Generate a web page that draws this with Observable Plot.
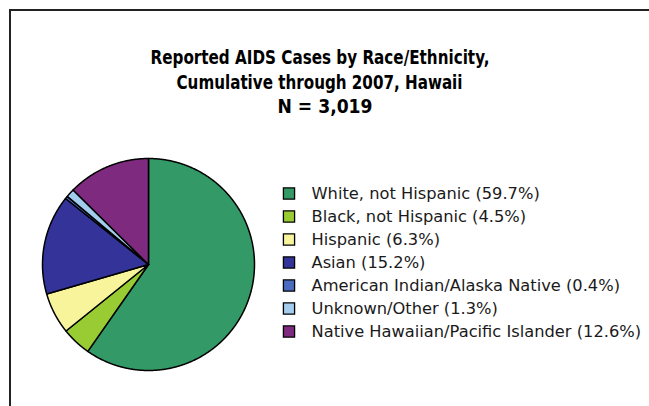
<!DOCTYPE html>
<html>
<head>
<meta charset="utf-8">
<script src="https://cdn.jsdelivr.net/npm/d3@7"></script>
<script src="https://cdn.jsdelivr.net/npm/@observablehq/plot@0.6"></script>
<style>
  html, body { margin: 0; padding: 0; background: #fff; }
  #wrap { position: relative; width: 649px; height: 406px; overflow: hidden; background: #fff; }
  #border { position: absolute; left: 9px; top: 9px; width: 700px; height: 450px;
            border-top: 2px solid #222; border-left: 2px solid #222; }
  #wrap svg { position: absolute; left: 0; top: 0; }
</style>
</head>
<body>
<div id="wrap"><div id="border"></div></div>
<script>
// ---- data ----
const titleLines = ["Reported AIDS Cases by Race/Ethnicity,", "Cumulative through 2007, Hawaii", "N = 3,019"];
const categories = [
  "White, not Hispanic",
  "Black, not Hispanic",
  "Hispanic",
  "Asian",
  "American Indian/Alaska Native",
  "Unknown/Other",
  "Native Hawaiian/Pacific Islander"
];
const percents = [59.7, 4.5, 6.3, 15.2, 0.4, 1.3, 12.6];
const colors = ["#339966", "#99cc33", "#f8f49c", "#333399", "#4a6cc0", "#a3cdee", "#7e2a7e"];

// ---- slice outlines from the data (clockwise from 12 o'clock) ----
const arcs = d3.pie().sort(null).value(d => d.v)(categories.map((c, i) => ({c, v: percents[i]})));
const points = [];
for (const a of arcs) {
  const name = a.data.c;
  points.push({name, u: 0, w: 0});
  const n = Math.max(2, Math.ceil((a.endAngle - a.startAngle) / 0.005));
  for (let k = 0; k <= n; k++) {
    const t = a.startAngle + (a.endAngle - a.startAngle) * k / n;
    points.push({name, u: Math.sin(t), w: Math.cos(t)});
  }
  points.push({name, u: 0, w: 0});
}
const color = {domain: categories, range: colors};
const titleDx = [-5, -5.5, 0];
const titleDy = [57, 82, 106.5];
const titleWidths = [339, 286, 95];

const pie = Plot.plot({
  width: 649, height: 406, margin: 0,
  x: {domain: [-1, 1], range: [42, 254], axis: null},
  y: {domain: [-1, 1], range: [370, 158], axis: null},
  color,
  style: {background: "transparent", overflow: "visible"},
  marks: [
    Plot.line(points, {x: "u", y: "w", z: "name", fill: "name", stroke: "#000", strokeWidth: 1.5, strokeLinejoin: "round"}),
    ...titleLines.map((line, i) => Plot.text([line], {
      frameAnchor: "top", lineAnchor: "middle", text: d => d,
      dx: titleDx[i], dy: titleDy[i],
      fontFamily: "'DejaVu Sans Condensed', 'DejaVu Sans', sans-serif",
      fontWeight: "bold", fontSize: 20, fill: "#000", className: "ttl"
    }))
  ]
});

const labels = categories.map((c, i) => `${c} (${percents[i]}%)`);
const legend = Plot.plot({
  width: 649, height: 406, margin: 0,
  x: {domain: [0, 1], range: [288.5, 311], axis: null},
  y: {type: "point", padding: 0, domain: categories, range: [191.5, 332], axis: null},
  color,
  style: {background: "transparent", overflow: "visible"},
  marks: [
    Plot.dot(categories, {x: () => 0, y: d => d, symbol: "square", r: 6.3, fill: d => d, stroke: "#000", strokeWidth: 1.3}),
    Plot.text(categories, {x: () => 1, y: d => d, text: (d, i) => labels[i], textAnchor: "start",
      fontFamily: "'DejaVu Sans', sans-serif", fontSize: 15, fill: "#1a1a1a", className: "leg"})
  ]
});
const wrap = document.getElementById("wrap");
wrap.appendChild(pie);
wrap.appendChild(legend);

// title: condensed to the line widths seen in the reference
[...document.querySelectorAll("g.ttl text")].forEach((t, i) => {
  t.setAttribute("textLength", titleWidths[i]);
  t.setAttribute("lengthAdjust", "spacingAndGlyphs");
});
// legend: font size fitted to the reference's widest label
(function () {
  const texts = [...document.querySelectorAll("g.leg text")];
  const t = texts[6];
  const w = t.getComputedTextLength();
  const fs = parseFloat(getComputedStyle(t).fontSize);
  document.querySelector("g.leg").setAttribute("font-size", fs * 330 / w);
})();
</script>
</body>
</html>
